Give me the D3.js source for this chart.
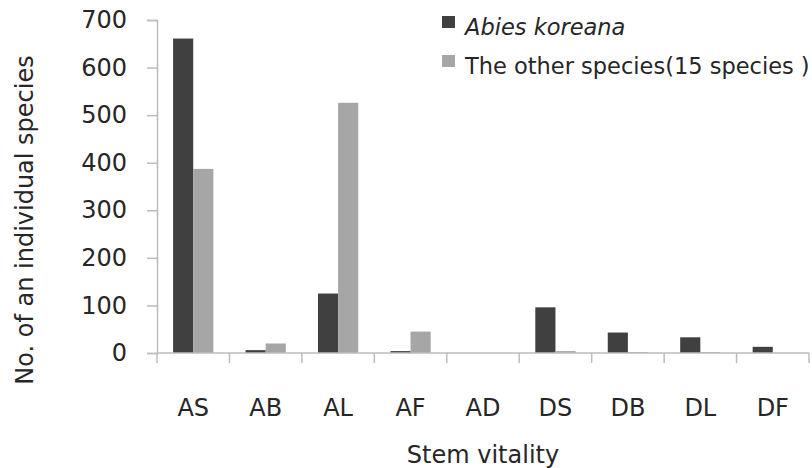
<!DOCTYPE html>
<html>
<head>
<meta charset="utf-8">
<script src="https://cdn.jsdelivr.net/npm/d3@7"></script>
<style>
  body { margin: 0; background: #fff; }
  svg { display: block; font-family: "DejaVu Sans", sans-serif; }
</style>
</head>
<body>
<svg id="chart" width="812" height="468"></svg>
<script>
// data
const categories = ["AS", "AB", "AL", "AF", "AD", "DS", "DB", "DL", "DF"];
const seriesNames = ["Abies koreana", "The other species(15 species )"];
const abiesKoreana = [661, 6, 125, 4, 0, 96, 43, 33, 13];
const otherSpecies = [387, 20, 526, 45, 0, 4, 2, 2, 0];
const yTicks = [0, 100, 200, 300, 400, 500, 600, 700];
const colors = ["#404040", "#a6a6a6"];

const svg = d3.select("#chart");
const plotLeft = 157, plotRight = 809, plotTop = 20, plotBottom = 353;

const x = d3.scaleBand().domain(categories).range([plotLeft, plotRight]);
const bw = x.bandwidth();
const xInner = d3.scaleBand().domain([0, 1]).range([bw * 0.222, bw * 0.778]);
const y = d3.scaleLinear().domain([0, 700]).range([plotBottom, plotTop]);

const axisColor = "#bcbcbc";
const textColor = "#262626";

// y axis
const yAxis = svg.append("g")
    .attr("transform", `translate(${plotLeft},0)`)
    .call(d3.axisLeft(y).tickValues(yTicks).tickSize(10).tickPadding(20));
yAxis.select(".domain").attr("stroke", axisColor).attr("stroke-width", 1.5);
yAxis.selectAll(".tick line").attr("stroke", axisColor).attr("stroke-width", 1.5);
yAxis.selectAll(".tick text")
    .attr("fill", textColor)
    .style("font-size", "24px")
    .style("font-family", "DejaVu Sans, sans-serif");

// bars
const data = [abiesKoreana, otherSpecies];
data.forEach((vals, s) => {
  svg.append("g").selectAll("rect")
      .data(vals)
      .join("rect")
      .attr("x", (d, i) => x(categories[i]) + xInner(s))
      .attr("width", xInner.bandwidth())
      .attr("y", d => y(d))
      .attr("height", d => y(0) - y(d))
      .attr("fill", colors[s]);
});

// x axis (ticks between categories)
svg.append("line")
    .attr("x1", plotLeft).attr("x2", plotRight)
    .attr("y1", y(0)).attr("y2", y(0))
    .attr("stroke", axisColor).attr("stroke-width", 1.5);
const bounds = categories.map(c => x(c)).concat([plotRight]);
svg.append("g").selectAll("line")
    .data(bounds)
    .join("line")
    .attr("x1", d => d).attr("x2", d => d)
    .attr("y1", y(0)).attr("y2", y(0) + 10)
    .attr("stroke", axisColor).attr("stroke-width", 1.5);
svg.append("g").selectAll("text")
    .data(categories)
    .join("text")
    .attr("x", d => x(d) + bw / 2)
    .attr("y", 408)
    .attr("dy", "0.35em")
    .attr("text-anchor", "middle")
    .attr("fill", textColor)
    .style("font-size", "24px")
    .text(d => d);

// axis titles
svg.append("text")
    .attr("x", 483).attr("y", 455).attr("dy", "0.35em")
    .attr("text-anchor", "middle")
    .attr("fill", textColor)
    .style("font-size", "24px")
    .text("Stem vitality");
svg.append("text")
    .attr("transform", "translate(25,220) rotate(-90)")
    .attr("dy", "0.35em")
    .attr("text-anchor", "middle")
    .attr("fill", textColor)
    .style("font-size", "24px")
    .text("No. of an individual species");

// legend
const legend = svg.append("g").selectAll("g")
    .data(seriesNames)
    .join("g")
    .attr("transform", (d, i) => `translate(442,${22 + i * 39})`);
legend.append("rect")
    .attr("x", 0).attr("y", -6)
    .attr("width", 13).attr("height", 12)
    .attr("fill", (d, i) => colors[i]);
legend.append("text")
    .attr("x", 23).attr("y", 5).attr("dy", "0.35em")
    .attr("fill", textColor)
    .style("font-size", "22.5px")
    .style("font-style", (d, i) => i === 0 ? "italic" : "normal")
    .text(d => d);
</script>
</body>
</html>
